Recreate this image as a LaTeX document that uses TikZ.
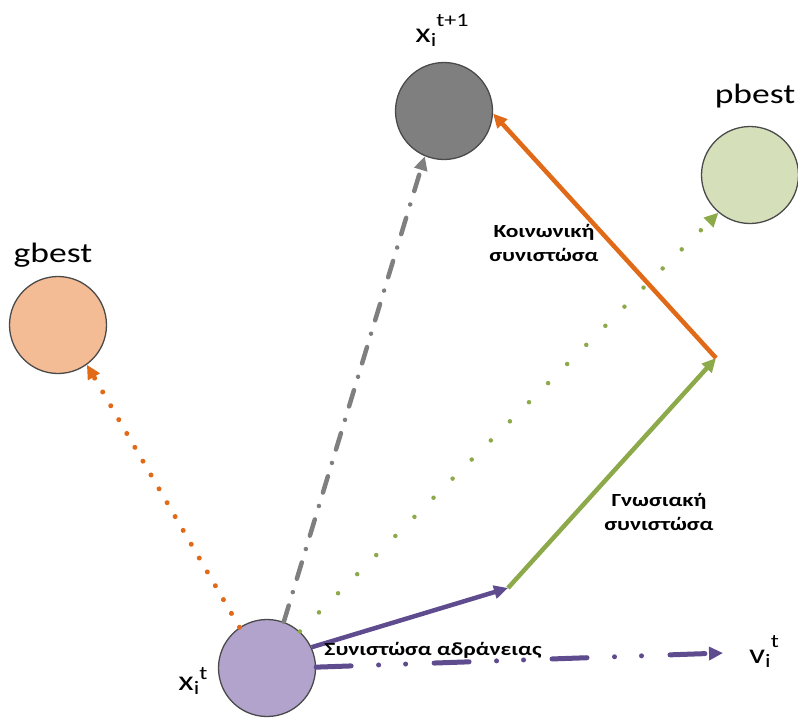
\documentclass[tikz,border=0pt]{standalone}
\usepackage{fontspec}
\setmainfont[FakeStretch=1.27]{Carlito}
\usetikzlibrary{arrows.meta}

\definecolor{nodegray}{HTML}{7F7F7F}
\definecolor{rimgray}{HTML}{4A4A4A}
\definecolor{gbestfill}{HTML}{F4BC94}
\definecolor{pbestfill}{HTML}{D5DFBA}
\definecolor{xfill}{HTML}{B1A3CC}
\definecolor{orangeline}{HTML}{E06A17}
\definecolor{greenline}{HTML}{8DAA4B}
\definecolor{purpleline}{HTML}{5E4C8E}
\definecolor{dashgray}{HTML}{7F7F7F}

\tikzset{
  particle/.style={circle, draw=rimgray, line width=1.3pt, minimum size=97pt, inner sep=0pt},
  tip/.style={-{Triangle[length=14pt,width=13pt]}},
  bigtxt/.style={font=\fontsize{28}{30}\selectfont, inner sep=0pt, anchor=base},
  comptxt/.style={font=\fontsize{18.5}{24}\selectfont\bfseries, align=center, inner sep=0pt},
}
% variable with a lowered index and a raised time stamp
\newcommand{\pvar}[3]{#1\raisebox{-4pt}{\fontsize{19}{19}\selectfont i}\raisebox{#3}{\fontsize{19}{19}\selectfont #2}}

\begin{document}
\begin{tikzpicture}[x=1pt,y=-1pt]
\useasboundingbox (0,0) rectangle (798,718);

% particles
\node[particle, fill=nodegray]  (xnext) at (444,111) {};
\node[particle, fill=gbestfill] (gbest) at (58,325) {};
\node[particle, fill=pbestfill] (pbest) at (750,175) {};
\node[particle, fill=xfill]     (xcur)  at (267,668) {};

% labels
\node[bigtxt] (lxnext) at (442,42) {\pvar{x}{t+1}{16pt}};
\node[bigtxt] (lgbest) at (53,262) {gbest};
\node[bigtxt] (lpbest) at (755,103) {pbest};
\node[bigtxt] (lxcur)  at (193,690) {\pvar{x}{t}{11pt}};
\node[bigtxt] (lv)     at (764,663) {\pvar{v}{t}{16pt}};

% corner points of the vector sum
\coordinate (inert) at (508,588);
\coordinate (cogn)  at (716,358);
\coordinate (vend)  at (723,653);

% dotted attraction lines
\draw[orangeline, line width=5pt, line cap=round, dash pattern=on 0.01pt off 16pt, tip]
  (xcur.124) -- (gbest.-54);
\draw[greenline, line width=4.5pt, line cap=round, dash pattern=on 0.01pt off 27pt, tip]
  (xcur.48) -- (pbest.-130);
% resulting displacement
\draw[dashgray, line width=4.5pt, line cap=round, dash pattern=on 17pt off 14pt on 0.01pt off 14pt, tip]
  (xcur.70) -- (xnext.-113);
% velocity
\draw[purpleline, line width=5pt, line cap=round,
      dash pattern=on 35pt off 27.5pt on 0.01pt off 27pt on 0.01pt off 28.5pt, tip]
  (xcur.1) -- (vend);

% components
\draw[purpleline, line width=4.5pt, tip] (xcur.25) -- (inert);
\draw[greenline, line width=4.5pt, tip] (inert) -- (cogn);
\draw[orangeline, line width=4.5pt, tip] (cogn) -- (xnext.-3);

% component names
\node[comptxt] (tsoc)  at (544,243) {Κοινωνική\\συνιστώσα};
\node[comptxt] (tcog)  at (659,512) {Γνωσιακή\\συνιστώσα};
\node[comptxt, anchor=base] (tin) at (433,655) {Συνιστώσα αδράνειας};
\end{tikzpicture}
\end{document}
